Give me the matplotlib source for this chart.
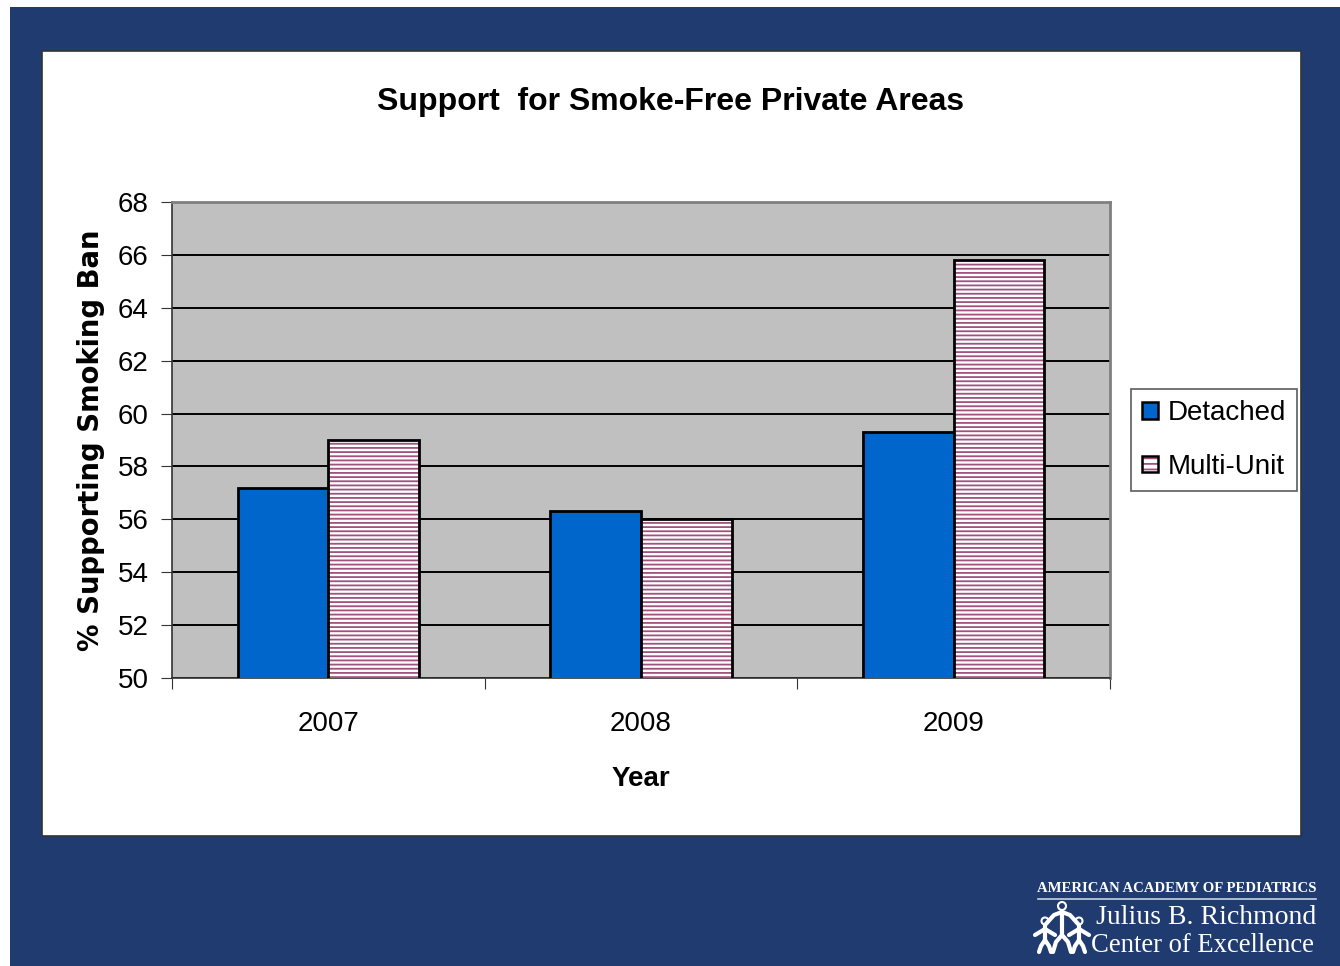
import matplotlib
matplotlib.use("Agg")
import matplotlib.pyplot as plt
import numpy as np
from matplotlib.patches import Rectangle, Patch, Circle

plt.rcParams['font.family'] = ['Liberation Sans', 'DejaVu Sans']
plt.rcParams['hatch.linewidth'] = 1.3

years = ["2007", "2008", "2009"]
detached = [57.2, 56.3, 59.3]
multi_unit = [59.0, 56.0, 65.8]

navy = "#1F3B70"
bar_blue = "#0066CC"
hatch_col = "#A0517E"

fig = plt.figure(figsize=(13.4, 9.66), dpi=100)
fig.patch.set_facecolor("white")
W, H = 1340, 966

def fx(px):
    return px / W

def fy(py):
    return 1 - py / H

# slide background, white panel and logo drawn in pixel space
bg = fig.add_axes([0, 0, 1, 1], zorder=-5)
bg.set_xlim(0, W)
bg.set_ylim(H, 0)
bg.axis("off")
bg.add_patch(Rectangle((10, 7), W - 10, H - 7, facecolor=navy, edgecolor="none"))
bg.add_patch(Rectangle((42, 51), 1301 - 42, 836 - 51, facecolor="white",
                       edgecolor="#333333", linewidth=1.2))

# crude family icon
icon = dict(color="white", linewidth=3, solid_capstyle="round")
bg.add_patch(Circle((1062, 906), 4, facecolor="none", edgecolor="white", linewidth=1.5))
bg.plot([1062, 1062], [912, 935], **icon)
bg.plot([1062, 1056, 1053], [935, 942, 952], **icon)
bg.plot([1062, 1068, 1071], [935, 942, 952], **icon)
bg.plot([1045, 1054, 1062, 1070, 1079], [925, 915, 912, 915, 925], **icon)
for cx in (1045, 1079):
    bg.add_patch(Circle((cx, 921), 3.5, facecolor="none", edgecolor="white", linewidth=1.5))
    bg.plot([cx, cx], [926, 940], **icon)
    bg.plot([cx, cx - 4, cx - 6], [940, 946, 952], **icon)
    bg.plot([cx, cx + 4, cx + 6], [940, 946, 952], **icon)
bg.plot([1035, 1045, 1055], [935, 929, 935], **icon)
bg.plot([1069, 1079, 1089], [935, 929, 935], **icon)

bg.text(1177, 888, "AMERICAN ACADEMY OF PEDIATRICS", family="Liberation Serif",
        fontsize=10.6, color="white", ha="center", va="center", weight="bold")
bg.plot([1038, 1316], [899, 899], color="#C8D0E0", linewidth=1.2)
bg.text(1316, 917, "Julius B. Richmond", family="Liberation Serif",
        fontsize=20, color="white", ha="right", va="center")
bg.text(1314, 945, "Center of Excellence", family="Liberation Serif",
        fontsize=19.2, color="white", ha="right", va="center")

ax = fig.add_axes([fx(172), fy(678), fx(1110 - 172), (678 - 202) / H])
ax.set_facecolor("#C0C0C0")

x = np.arange(len(years))
w = 0.29
ax.bar(x - w / 2, detached, w, color=bar_blue, edgecolor="black",
       linewidth=2, zorder=3)
ax.bar(x + w / 2, multi_unit, w, color="white", edgecolor=hatch_col,
       hatch="----", linewidth=0, zorder=3)
ax.bar(x + w / 2, multi_unit, w, color="none", edgecolor="black",
       linewidth=2, zorder=4)

ax.set_ylim(50, 68)
ax.set_xlim(-0.5, 2.5)
ax.set_yticks(range(50, 69, 2))
ax.yaxis.grid(True, color="black", linewidth=1.4)
ax.set_axisbelow(True)

ax.set_xticks([-0.5, 0.5, 1.5, 2.5])
ax.set_xticklabels([])
ax.set_xticks(x, minor=True)
ax.set_xticklabels(years, minor=True)
ax.tick_params(axis="x", which="minor", length=0, pad=24, labelsize=20)
ax.tick_params(axis="x", which="major", length=8, direction="out", color="#333333")
ax.tick_params(axis="y", length=8, direction="out", labelsize=20, pad=9, color="#333333")

for s in ["top", "right"]:
    ax.spines[s].set_color("#808080")
    ax.spines[s].set_linewidth(2)
ax.spines["left"].set_color("#333333")
ax.spines["bottom"].set_color("#333333")
ax.spines["left"].set_linewidth(1.2)
ax.spines["bottom"].set_linewidth(1.2)

ax.set_xlabel("Year", fontsize=20, fontweight="bold", labelpad=21)
ax.set_ylabel("% Supporting Smoking Ban", fontsize=19.8, fontweight="bold",
              family="DejaVu Sans", labelpad=9)

fig.text(fx(671), fy(102), "Support  for Smoke-Free Private Areas", fontsize=23,
         fontweight="bold", ha="center", va="center")

h_det = Patch(facecolor=bar_blue, edgecolor="black", linewidth=1.8)
h_multi = (Patch(facecolor="white", edgecolor=hatch_col, hatch="---", linewidth=0),
           Patch(facecolor="none", edgecolor="black", linewidth=1.8))
leg = fig.legend([h_det, h_multi], ["Detached", "Multi-Unit"], loc="center",
                 bbox_to_anchor=(fx(1214), fy(440)), fontsize=20, frameon=True,
                 fancybox=False, edgecolor="#333333", handlelength=0.55,
                 handleheight=0.55, handletextpad=0.35, labelspacing=1.0,
                 borderpad=0.4, borderaxespad=0)
leg.get_frame().set_linewidth(1.2)

fig.savefig("out.png", dpi=100)
